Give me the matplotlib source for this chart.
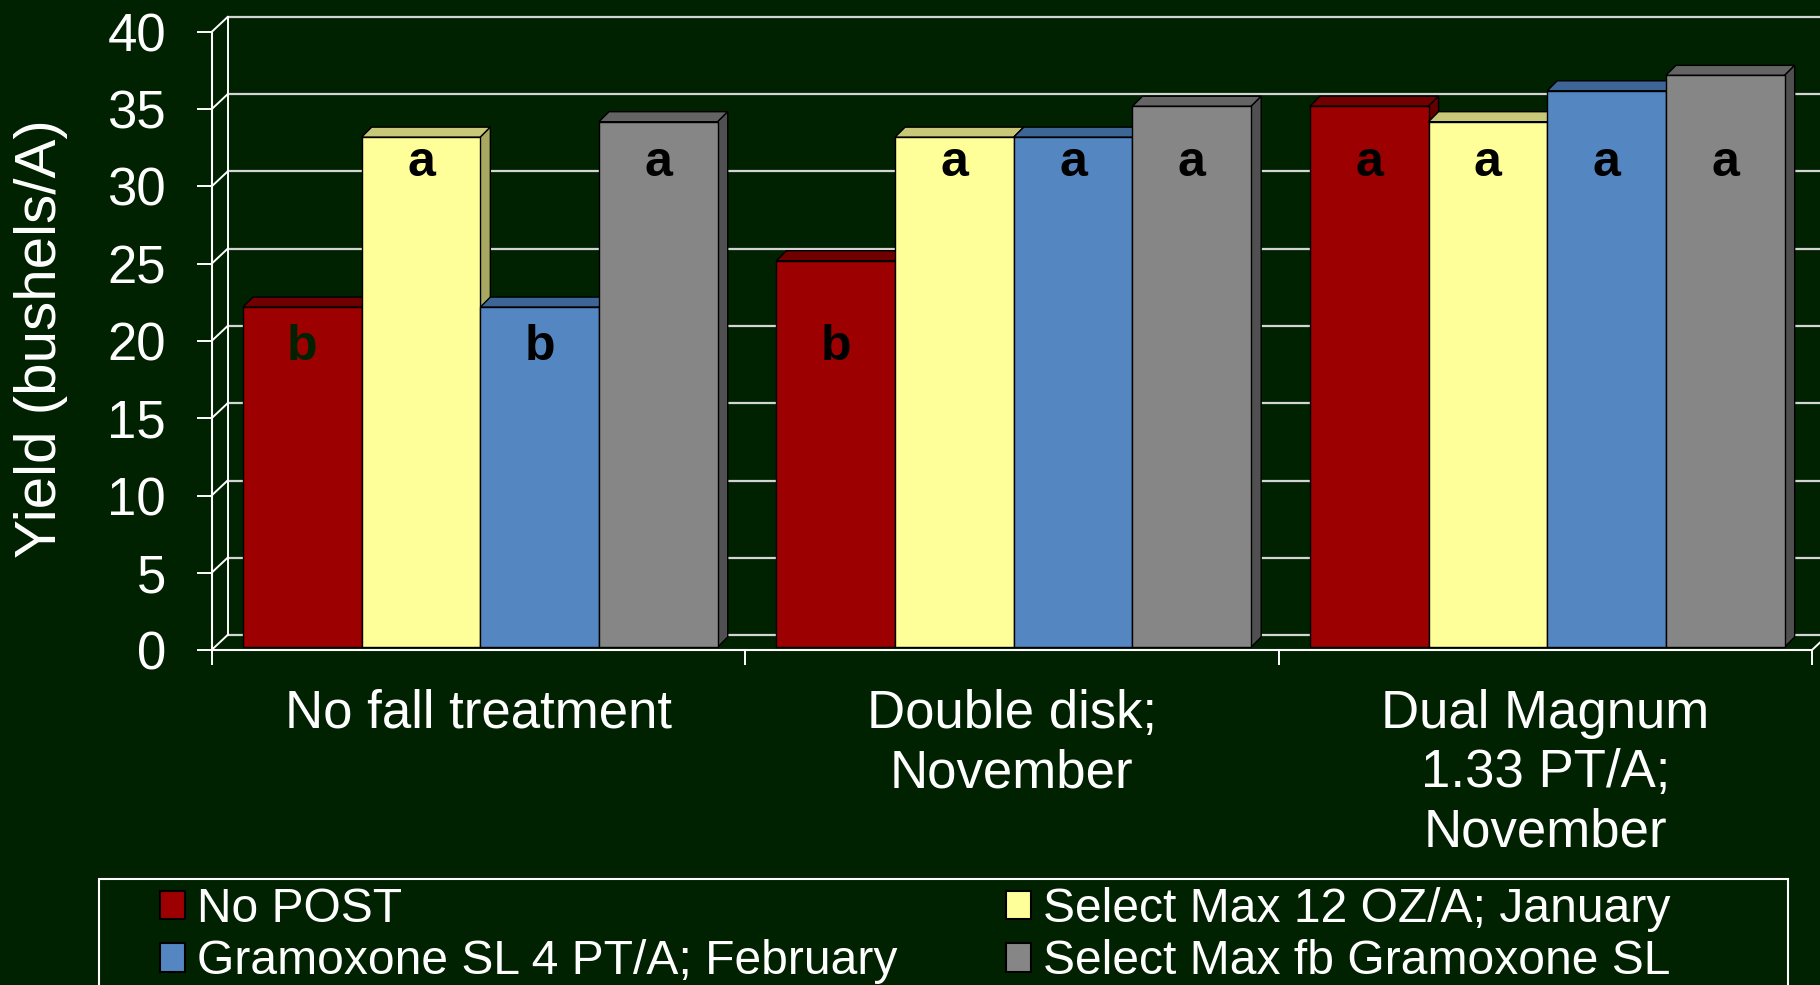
import matplotlib
matplotlib.use('Agg')
from matplotlib import pyplot as pl
from matplotlib.patches import Polygon, Rectangle, Patch

pl.rcParams['font.family'] = ['Liberation Sans', 'DejaVu Sans']

# Data
groups = ['No fall treatment', 'Double disk;\nNovember',
          'Dual Magnum\n1.33 PT/A;\nNovember']
series = ['No POST', 'Select Max 12 OZ/A; January',
          'Gramoxone SL 4 PT/A; February', 'Select Max fb Gramoxone SL']
no_post = [22, 25, 35]
select_jan = [33, 33, 34]
gramoxone_feb = [22, 33, 36]
select_fb = [34, 35, 37]
letters_no_post = ['b', 'b', 'a']
letters_select_jan = ['a', 'a', 'a']
letters_gramoxone_feb = ['b', 'a', 'a']
letters_select_fb = ['a', 'a', 'a']
yticks = [0, 5, 10, 15, 20, 25, 30, 35, 40]

values = [no_post, select_jan, gramoxone_feb, select_fb]
letters = [letters_no_post, letters_select_jan, letters_gramoxone_feb,
           letters_select_fb]

# Styles
bg = '#002200'
front_cols = ['#9c0000', '#ffff99', '#5486c2', '#868686']
top_cols = ['#700000', '#c8c878', '#3d6696', '#646464']
side_cols = ['#640000', '#a8a860', '#2f5480', '#505050']
grid_col = '#d4d4d4'
letter_y = {'a': 31.3, 'b': 19.4}

W, H = 1820, 985


def fx(x):
    return x / W


def fy(y):
    return 1 - y / H


fig = pl.figure(figsize=(W / 100, H / 100), dpi=100, facecolor=bg)
ax = fig.add_axes([fx(211.6), fy(650), fx(1600.4), 618 / H])
ax.set_xlim(0, 3)
ax.set_ylim(0, 40)
ax.patch.set_visible(False)

ppx = ax.bbox.width / 3
ppy = ax.bbox.height / 40

# depth offsets (data units)
wdx, wdy = 16 / ppx, 15 / ppy   # back wall
bdx, bdy = 2 / ppx, 3 / ppy     # bar front plane
ddx, ddy = 10 / ppx, 10 / ppy   # bar depth

# back wall grid, left wall diagonals
for v in yticks:
    ax.plot([wdx, 3 + wdx + 0.1], [v + wdy, v + wdy], color=grid_col,
            lw=1.6, clip_on=False, zorder=0.5)
    ax.plot([0, wdx], [v, v + wdy], color='white', lw=1.4,
            clip_on=False, zorder=0.5)
ax.plot([wdx, wdx], [wdy, 40 + wdy], color='white', lw=1.4,
        clip_on=False, zorder=0.5)
ax.plot([3, 3 + wdx], [0, wdy], color='white', lw=1.4,
        clip_on=False, zorder=0.5)

# bars
gap = 0.11
w = (1 - gap) / 4
for i in range(len(groups)):
    for j in range(4):
        k = i * 4 + j
        z = 2 + k * 0.01
        x0 = i + gap / 2 + j * w + bdx
        h = values[j][i]
        top = Polygon([(x0, bdy + h), (x0 + w, bdy + h),
                       (x0 + w + ddx, bdy + h + ddy), (x0 + ddx, bdy + h + ddy)],
                      closed=True, facecolor=top_cols[j], edgecolor='black',
                      lw=1.0, zorder=z, clip_on=False)
        side = Polygon([(x0 + w, bdy), (x0 + w + ddx, bdy + ddy),
                        (x0 + w + ddx, bdy + h + ddy), (x0 + w, bdy + h)],
                       closed=True, facecolor=side_cols[j], edgecolor='black',
                       lw=1.0, zorder=z, clip_on=False)
        ax.add_patch(top)
        ax.add_patch(side)
        ax.bar(x0, h, width=w, bottom=bdy, align='edge', color=front_cols[j],
               edgecolor='black', lw=1.0, zorder=z + 0.005, clip_on=False)
        lt = letters[j][i]
        lc = bg if (i == 0 and j == 0) else 'black'
        ax.text(x0 + w / 2, letter_y[lt] + bdy, lt, ha='center', va='center',
                fontsize=36, fontweight='bold', color=lc, zorder=10)

# axes
for s in ['top', 'right']:
    ax.spines[s].set_visible(False)
for s in ['left', 'bottom']:
    ax.spines[s].set_color('white')
    ax.spines[s].set_linewidth(1.5)
    ax.spines[s].set_zorder(1)

ax.set_yticks(yticks)
ax.tick_params(axis='y', colors='white', length=10.8, width=1.4, pad=22,
               labelsize=38)
ax.set_xticks([0, 1, 2, 3])
ax.set_xticklabels([])
ax.set_xticks([0.5, 1.5, 2.5], minor=True)
ax.set_xticklabels(groups, minor=True, fontsize=38, color='white',
                   linespacing=1.24)
ax.tick_params(axis='x', which='major', colors='white', length=10.8,
               width=1.4)
ax.tick_params(axis='x', which='minor', length=0, pad=28)

fig.text(fx(41), fy(339), 'Yield (bushels/A)', rotation=90, ha='center',
         va='center', fontsize=42, color='white')

# legend
order = [0, 2, 1, 3]
handles = [Patch(facecolor=front_cols[j], edgecolor='black', lw=1.5)
           for j in order]
labels = [series[j] for j in order]
fig.legend(handles, labels, loc='upper left', bbox_to_anchor=(fx(160), fy(887)),
           ncol=2, frameon=False, fontsize=34.6, handlelength=0.53,
           handleheight=0.55, handletextpad=0.23, columnspacing=2.27,
           labelspacing=0.15, borderpad=0, borderaxespad=0, labelcolor='white')
fig.add_artist(Rectangle((fx(99), fy(1000)), fx(1689), (1000 - 879) / H,
                         transform=fig.transFigure, fill=False,
                         edgecolor='white', lw=1.5))

fig.savefig('out.png', dpi=100, facecolor=bg)
